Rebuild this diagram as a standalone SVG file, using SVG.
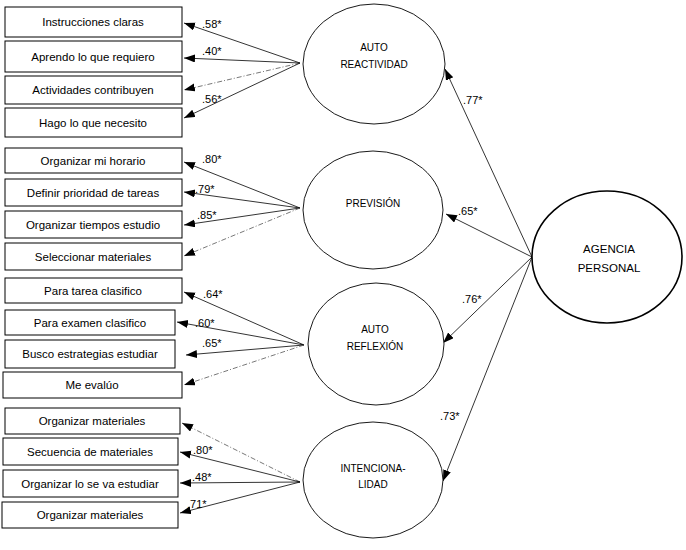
<svg xmlns="http://www.w3.org/2000/svg" width="686" height="550" viewBox="0 0 686 550">
<style>
.box{fill:#fff;stroke:#000;stroke-width:1}
.ell{fill:#fff;stroke:#000;stroke-width:0.9}
.ellb{fill:#fff;stroke:#000;stroke-width:1.6}
.t{font-family:"Liberation Sans",Arial,sans-serif;font-size:11.5px;fill:#000;text-anchor:middle}
.e{font-family:"Liberation Sans",Arial,sans-serif;font-size:10px;fill:#000;text-anchor:middle}
.eb{font-family:"Liberation Sans",Arial,sans-serif;font-size:11.5px;fill:#000;text-anchor:middle}
.l{font-family:"Liberation Sans",Arial,sans-serif;font-size:11px;fill:#000}
.c{stroke:#000;stroke-width:0.8;fill:none;marker-end:url(#ah)}
.d{stroke:#555;stroke-width:0.8;fill:none;stroke-dasharray:5 2 1 2;marker-end:url(#ah)}
</style>
<defs>
<marker id="ah" markerUnits="userSpaceOnUse" markerWidth="12" markerHeight="10" refX="11" refY="4" orient="auto">
<path d="M0,0 L11,4 L0,8 Z" fill="#000"/>
</marker>
</defs>
<rect width="686" height="550" fill="#fff"/>
<g id="connectors">
<path class="c" d="M300,63 L184,23"/>
<path class="c" d="M300,63 L184,58"/>
<path class="d" d="M300,63 L184,90"/>
<path class="c" d="M300,63 L184,118"/>
<path class="c" d="M300,208 L184,162"/>
<path class="c" d="M300,208 L184,192"/>
<path class="c" d="M300,208 L184,225"/>
<path class="d" d="M300,208 L184,256"/>
<path class="c" d="M304,345 L184,292"/>
<path class="c" d="M304,345 L177,322"/>
<path class="c" d="M304,345 L186,355"/>
<path class="d" d="M304,345 L184,385"/>
<path class="d" d="M300,482 L182,423"/>
<path class="c" d="M300,482 L180,452"/>
<path class="c" d="M300,482 L180,483"/>
<path class="c" d="M300,482 L180,513"/>
<path class="c" d="M532,257 L445,69"/>
<path class="c" d="M532,257 L446,214"/>
<path class="c" d="M532,257 L443,343"/>
<path class="c" d="M532,257 L443,481"/>
<text class="l" x="202" y="28">.58*</text>
<text class="l" x="202" y="55">.40*</text>
<text class="l" x="202" y="103">.56*</text>
<text class="l" x="202" y="163">.80*</text>
<text class="l" x="195" y="193">.79*</text>
<text class="l" x="197" y="219">.85*</text>
<text class="l" x="203" y="298">.64*</text>
<text class="l" x="195" y="327">.60*</text>
<text class="l" x="202" y="347">.65*</text>
<text class="l" x="193" y="454">.80*</text>
<text class="l" x="192" y="481">.48*</text>
<text class="l" x="187" y="508">.71*</text>
<text class="l" x="463" y="104">.77*</text>
<text class="l" x="458" y="215">.65*</text>
<text class="l" x="462" y="303">.76*</text>
<text class="l" x="440" y="420">.73*</text>
</g>
<g id="n1"><rect class="box" x="5" y="7" width="177" height="30"/><text class="t" x="93" y="26">Instrucciones claras</text></g>
<g id="n2"><rect class="box" x="5" y="41" width="177" height="31"/><text class="t" x="93" y="61">Aprendo lo que requiero</text></g>
<g id="n3"><rect class="box" x="5" y="76" width="177" height="28"/><text class="t" x="93" y="94">Actividades contribuyen</text></g>
<g id="n4"><rect class="box" x="5" y="108" width="177" height="29"/><text class="t" x="93" y="127">Hago lo que necesito</text></g>
<g id="n5"><rect class="box" x="5" y="148" width="177" height="25"/><text class="t" x="93" y="165">Organizar mi horario</text></g>
<g id="n6"><rect class="box" x="5" y="179" width="177" height="27"/><text class="t" x="93" y="197">Definir prioridad de tareas</text></g>
<g id="n7"><rect class="box" x="5" y="211" width="177" height="27"/><text class="t" x="93" y="229">Organizar tiempos estudio</text></g>
<g id="n8"><rect class="box" x="5" y="243" width="177" height="27"/><text class="t" x="93" y="261">Seleccionar materiales</text></g>
<g id="n9"><rect class="box" x="5" y="278" width="177" height="25"/><text class="t" x="93" y="295">Para tarea clasifico</text></g>
<g id="n10"><rect class="box" x="5" y="310" width="170" height="25"/><text class="t" x="90" y="327">Para examen clasifico</text></g>
<g id="n11"><rect class="box" x="5" y="340" width="170" height="28"/><text class="t" x="90" y="358">Busco estrategias estudiar</text></g>
<g id="n12"><rect class="box" x="3" y="372" width="179" height="26"/><text class="t" x="92" y="389">Me evalúo</text></g>
<g id="n13"><rect class="box" x="5" y="408" width="175" height="26"/><text class="t" x="92" y="425">Organizar materiales</text></g>
<g id="n14"><rect class="box" x="3" y="438" width="175" height="27"/><text class="t" x="90" y="456">Secuencia de materiales</text></g>
<g id="n15"><rect class="box" x="3" y="470" width="175" height="27"/><text class="t" x="90" y="488">Organizar lo se va estudiar</text></g>
<g id="n16"><rect class="box" x="2" y="502" width="176" height="26"/><text class="t" x="90" y="519">Organizar materiales</text></g>
<g id="autoreactividad"><ellipse class="ell" cx="374" cy="64" rx="71" ry="60"/><text class="e" x="374" y="51">AUTO</text><text class="e" x="374" y="68">REACTIVIDAD</text></g>
<g id="prevision"><ellipse class="ell" cx="373" cy="210" rx="70" ry="59"/><text class="e" x="373" y="207">PREVISIÓN</text></g>
<g id="autoreflexion"><ellipse class="ell" cx="376" cy="344" rx="68" ry="61"/><text class="e" x="375" y="333">AUTO</text><text class="e" x="375" y="350">REFLEXIÓN</text></g>
<g id="intencionalidad"><ellipse class="ell" cx="373" cy="480" rx="70" ry="58"/><text class="e" x="373" y="472">INTENCIONA-</text><text class="e" x="373" y="488">LIDAD</text></g>
<g id="agencia"><ellipse class="ellb" cx="607" cy="257" rx="75" ry="66"/><text class="eb" x="609" y="253">AGENCIA</text><text class="eb" x="609" y="272">PERSONAL</text></g>
</svg>
